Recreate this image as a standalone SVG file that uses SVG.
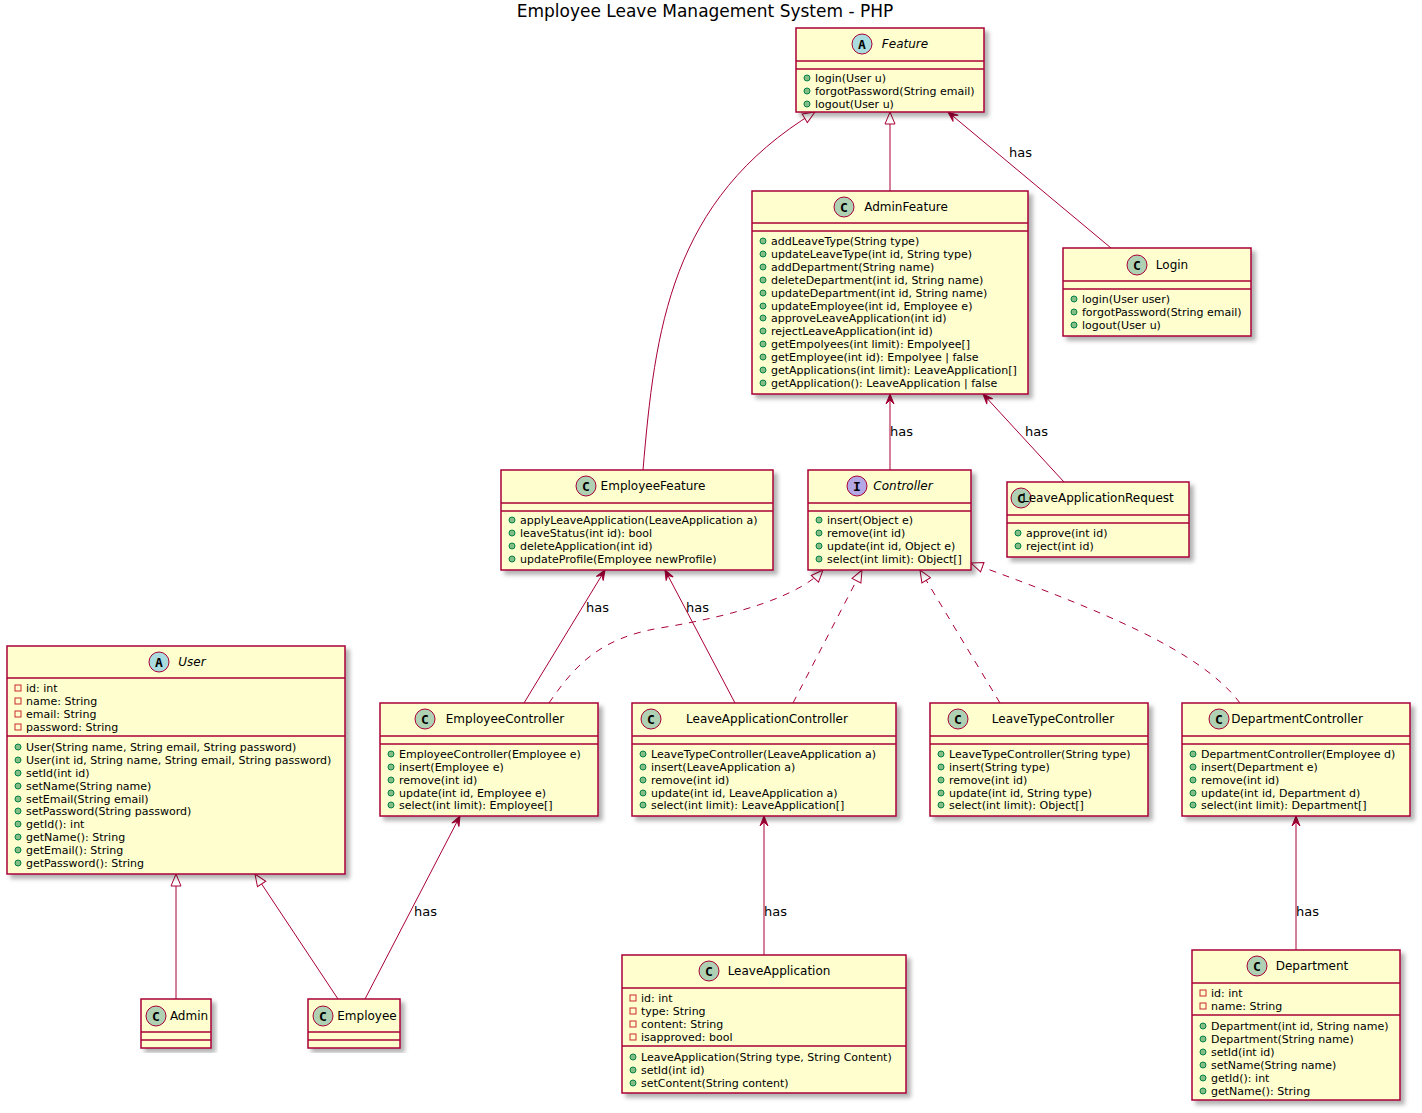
<svg xmlns="http://www.w3.org/2000/svg" width="1422" height="1113" viewBox="0 0 1422 1113">
<defs>
<filter id="sh" x="-5%" y="-5%" width="115%" height="115%"><feDropShadow dx="4" dy="4" stdDeviation="2" flood-color="#000" flood-opacity="0.3"/></filter>
<marker id="tri" viewBox="0 0 14 12" refX="13" refY="6" markerWidth="14" markerHeight="12" markerUnits="userSpaceOnUse" orient="auto"><path d="M1,1 L13,6 L1,11 Z" fill="#fff" stroke="#A80036"/></marker>
<marker id="arr" viewBox="0 0 12 10" refX="11" refY="5" markerWidth="12" markerHeight="10" markerUnits="userSpaceOnUse" orient="auto"><path d="M1,1 L11,5 L1,9 L5,5 Z" fill="#A80036" stroke="#A80036"/></marker>
</defs>
<style>
.b{fill:#FEFECE;stroke:#A80036;stroke-width:1.5;filter:url(#sh)}
.s{stroke:#A80036;stroke-width:1.5}
.t{font-family:"DejaVu Sans",sans-serif;font-size:12px;fill:#000;text-anchor:middle}
.it{font-style:italic}
.m{font-family:"DejaVu Sans",sans-serif;font-size:11px;fill:#000}
.pub{fill:#84BE84;stroke:#038048;stroke-width:1}
.pri{fill:none;stroke:#C82930;stroke-width:1}
.ic{stroke:#A80036;stroke-width:1}
.il{font-family:"DejaVu Sans Mono",monospace;font-weight:bold;font-size:13px;text-anchor:middle}
.e{fill:none;stroke:#A80036;stroke-width:1}
.d{stroke-dasharray:7,7}
.l{font-family:"DejaVu Sans",sans-serif;font-size:13px;fill:#000}
</style>
<text x="705" y="17" font-family="DejaVu Sans,sans-serif" font-size="17" text-anchor="middle">Employee Leave Management System - PHP</text>

<g id="connectors">
<path class="e" d="M643,470 C655,330 670,200 815,112" marker-end="url(#tri)"/>
<path class="e" d="M890,191 L890,112" marker-end="url(#tri)"/>
<path class="e" d="M1111,248 L948,112" marker-end="url(#arr)"/>
<text class="l" x="1009" y="157">has</text>
<path class="e" d="M890,470 L890,394" marker-end="url(#arr)"/>
<text class="l" x="890" y="436">has</text>
<path class="e" d="M1064,482 L983,394" marker-end="url(#arr)"/>
<text class="l" x="1025" y="436">has</text>
<path class="e" d="M524,703 L605,570" marker-end="url(#arr)"/>
<text class="l" x="586" y="612">has</text>
<path class="e" d="M735,703 L665,570" marker-end="url(#arr)"/>
<text class="l" x="686" y="612">has</text>
<path class="e d" d="M549,703 C575,665 600,638 660,628 C740,615 800,595 823,570" marker-end="url(#tri)"/>
<path class="e d" d="M793,703 L862,570" marker-end="url(#tri)"/>
<path class="e d" d="M1000,703 L920,570" marker-end="url(#tri)"/>
<path class="e d" d="M1240,703 C1200,650 1100,610 971,563" marker-end="url(#tri)"/>
<path class="e" d="M176,999 L176,874" marker-end="url(#tri)"/>
<path class="e" d="M338,999 L255,874" marker-end="url(#tri)"/>
<path class="e" d="M365,999 L460,816" marker-end="url(#arr)"/>
<text class="l" x="414" y="916">has</text>
<path class="e" d="M764,955 L764,816" marker-end="url(#arr)"/>
<text class="l" x="764" y="916">has</text>
<path class="e" d="M1296,950 L1296,816" marker-end="url(#arr)"/>
<text class="l" x="1296" y="916">has</text>
</g>

<g id="Feature">
<rect class="b" x="796" y="28" width="188" height="84"/>
<line class="s" x1="796" y1="61" x2="984" y2="61"/><line class="s" x1="796" y1="69" x2="984" y2="69"/>
<circle class="ic" cx="862" cy="44" r="10" fill="#A9DCDF"/><text class="il" x="862" y="49">A</text>
<text class="t it" x="905" y="48">Feature</text>
<circle class="pub" cx="807" cy="78" r="3"/><text class="m" x="815" y="82">login(User u)</text>
<circle class="pub" cx="807" cy="91" r="3"/><text class="m" x="815" y="95">forgotPassword(String email)</text>
<circle class="pub" cx="807" cy="104" r="3"/><text class="m" x="815" y="108">logout(User u)</text>
</g>

<g id="AdminFeature">
<rect class="b" x="752" y="191" width="276" height="203"/>
<line class="s" x1="752" y1="223" x2="1028" y2="223"/><line class="s" x1="752" y1="231" x2="1028" y2="231"/>
<circle class="ic" cx="844" cy="207" r="10" fill="#ADD1B2"/><text class="il" x="844" y="212">C</text>
<text class="t" x="906" y="211">AdminFeature</text>
<g class="m">
<circle class="pub" cx="763" cy="241" r="3"/><text class="m" x="771" y="245">addLeaveType(String type)</text>
<circle class="pub" cx="763" cy="254" r="3"/><text class="m" x="771" y="258">updateLeaveType(int id, String type)</text>
<circle class="pub" cx="763" cy="267" r="3"/><text class="m" x="771" y="271">addDepartment(String name)</text>
<circle class="pub" cx="763" cy="280" r="3"/><text class="m" x="771" y="284">deleteDepartment(int id, String name)</text>
<circle class="pub" cx="763" cy="293" r="3"/><text class="m" x="771" y="297">updateDepartment(int id, String name)</text>
<circle class="pub" cx="763" cy="306" r="3"/><text class="m" x="771" y="310">updateEmployee(int id, Employee e)</text>
<circle class="pub" cx="763" cy="318" r="3"/><text class="m" x="771" y="322">approveLeaveApplication(int id)</text>
<circle class="pub" cx="763" cy="331" r="3"/><text class="m" x="771" y="335">rejectLeaveApplication(int id)</text>
<circle class="pub" cx="763" cy="344" r="3"/><text class="m" x="771" y="348">getEmpolyees(int limit): Empolyee[]</text>
<circle class="pub" cx="763" cy="357" r="3"/><text class="m" x="771" y="361">getEmployee(int id): Empolyee | false</text>
<circle class="pub" cx="763" cy="370" r="3"/><text class="m" x="771" y="374">getApplications(int limit): LeaveApplication[]</text>
<circle class="pub" cx="763" cy="383" r="3"/><text class="m" x="771" y="387">getApplication(): LeaveApplication | false</text>
</g>
</g>

<g id="Login">
<rect class="b" x="1063" y="248" width="188" height="88"/>
<line class="s" x1="1063" y1="281" x2="1251" y2="281"/><line class="s" x1="1063" y1="289" x2="1251" y2="289"/>
<circle class="ic" cx="1137" cy="265" r="10" fill="#ADD1B2"/><text class="il" x="1137" y="270">C</text>
<text class="t" x="1172" y="269">Login</text>
<circle class="pub" cx="1074" cy="299" r="3"/><text class="m" x="1082" y="303">login(User user)</text>
<circle class="pub" cx="1074" cy="312" r="3"/><text class="m" x="1082" y="316">forgotPassword(String email)</text>
<circle class="pub" cx="1074" cy="325" r="3"/><text class="m" x="1082" y="329">logout(User u)</text>
</g>

<g id="EmployeeFeature">
<rect class="b" x="501" y="470" width="272" height="100"/>
<line class="s" x1="501" y1="503" x2="773" y2="503"/><line class="s" x1="501" y1="511" x2="773" y2="511"/>
<circle class="ic" cx="586" cy="486" r="10" fill="#ADD1B2"/><text class="il" x="586" y="491">C</text>
<text class="t" x="653" y="490">EmployeeFeature</text>
<circle class="pub" cx="512" cy="520" r="3"/><text class="m" x="520" y="524">applyLeaveApplication(LeaveApplication a)</text>
<circle class="pub" cx="512" cy="533" r="3"/><text class="m" x="520" y="537">leaveStatus(int id): bool</text>
<circle class="pub" cx="512" cy="546" r="3"/><text class="m" x="520" y="550">deleteApplication(int id)</text>
<circle class="pub" cx="512" cy="559" r="3"/><text class="m" x="520" y="563">updateProfile(Employee newProfile)</text>
</g>

<g id="Controller">
<rect class="b" x="808" y="470" width="163" height="100"/>
<line class="s" x1="808" y1="503" x2="971" y2="503"/><line class="s" x1="808" y1="511" x2="971" y2="511"/>
<circle class="ic" cx="857" cy="486" r="10" fill="#B4A7E5"/><text class="il" x="857" y="491">I</text>
<text class="t it" x="903" y="490">Controller</text>
<circle class="pub" cx="819" cy="520" r="3"/><text class="m" x="827" y="524">insert(Object e)</text>
<circle class="pub" cx="819" cy="533" r="3"/><text class="m" x="827" y="537">remove(int id)</text>
<circle class="pub" cx="819" cy="546" r="3"/><text class="m" x="827" y="550">update(int id, Object e)</text>
<circle class="pub" cx="819" cy="559" r="3"/><text class="m" x="827" y="563">select(int limit): Object[]</text>
</g>

<g id="LeaveApplicationRequest">
<rect class="b" x="1007" y="482" width="182" height="75"/>
<line class="s" x1="1007" y1="515" x2="1189" y2="515"/><line class="s" x1="1007" y1="523" x2="1189" y2="523"/>
<circle class="ic" cx="1021" cy="498" r="10" fill="#ADD1B2"/><text class="il" x="1021" y="503">C</text>
<text class="t" x="1098" y="502">LeaveApplicationRequest</text>
<circle class="pub" cx="1018" cy="533" r="3"/><text class="m" x="1026" y="537">approve(int id)</text>
<circle class="pub" cx="1018" cy="546" r="3"/><text class="m" x="1026" y="550">reject(int id)</text>
</g>

<g id="User">
<rect class="b" x="7" y="646" width="338" height="228"/>
<line class="s" x1="7" y1="678" x2="345" y2="678"/><line class="s" x1="7" y1="736" x2="345" y2="736"/>
<circle class="ic" cx="159" cy="662" r="10" fill="#A9DCDF"/><text class="il" x="159" y="667">A</text>
<text class="t it" x="192" y="666">User</text>
<rect class="pri" x="15" y="685" width="6" height="6"/><text class="m" x="26" y="692">id: int</text>
<rect class="pri" x="15" y="698" width="6" height="6"/><text class="m" x="26" y="705">name: String</text>
<rect class="pri" x="15" y="711" width="6" height="6"/><text class="m" x="26" y="718">email: String</text>
<rect class="pri" x="15" y="724" width="6" height="6"/><text class="m" x="26" y="731">password: String</text>
<circle class="pub" cx="18" cy="747" r="3"/><text class="m" x="26" y="751">User(String name, String email, String password)</text>
<circle class="pub" cx="18" cy="760" r="3"/><text class="m" x="26" y="764">User(int id, String name, String email, String password)</text>
<circle class="pub" cx="18" cy="773" r="3"/><text class="m" x="26" y="777">setId(int id)</text>
<circle class="pub" cx="18" cy="786" r="3"/><text class="m" x="26" y="790">setName(String name)</text>
<circle class="pub" cx="18" cy="799" r="3"/><text class="m" x="26" y="803">setEmail(String email)</text>
<circle class="pub" cx="18" cy="811" r="3"/><text class="m" x="26" y="815">setPassword(String password)</text>
<circle class="pub" cx="18" cy="824" r="3"/><text class="m" x="26" y="828">getId(): int</text>
<circle class="pub" cx="18" cy="837" r="3"/><text class="m" x="26" y="841">getName(): String</text>
<circle class="pub" cx="18" cy="850" r="3"/><text class="m" x="26" y="854">getEmail(): String</text>
<circle class="pub" cx="18" cy="863" r="3"/><text class="m" x="26" y="867">getPassword(): String</text>
</g>

<g id="EmployeeController">
<rect class="b" x="380" y="703" width="218" height="113"/>
<line class="s" x1="380" y1="736" x2="598" y2="736"/><line class="s" x1="380" y1="744" x2="598" y2="744"/>
<circle class="ic" cx="425" cy="719" r="10" fill="#ADD1B2"/><text class="il" x="425" y="724">C</text>
<text class="t" x="505" y="723">EmployeeController</text>
<circle class="pub" cx="391" cy="754" r="3"/><text class="m" x="399" y="758">EmployeeController(Employee e)</text>
<circle class="pub" cx="391" cy="767" r="3"/><text class="m" x="399" y="771">insert(Employee e)</text>
<circle class="pub" cx="391" cy="780" r="3"/><text class="m" x="399" y="784">remove(int id)</text>
<circle class="pub" cx="391" cy="793" r="3"/><text class="m" x="399" y="797">update(int id, Employee e)</text>
<circle class="pub" cx="391" cy="805" r="3"/><text class="m" x="399" y="809">select(int limit): Employee[]</text>
</g>

<g id="LeaveApplicationController">
<rect class="b" x="632" y="703" width="264" height="113"/>
<line class="s" x1="632" y1="736" x2="896" y2="736"/><line class="s" x1="632" y1="744" x2="896" y2="744"/>
<circle class="ic" cx="651" cy="719" r="10" fill="#ADD1B2"/><text class="il" x="651" y="724">C</text>
<text class="t" x="767" y="723">LeaveApplicationController</text>
<circle class="pub" cx="643" cy="754" r="3"/><text class="m" x="651" y="758">LeaveTypeController(LeaveApplication a)</text>
<circle class="pub" cx="643" cy="767" r="3"/><text class="m" x="651" y="771">insert(LeaveApplication a)</text>
<circle class="pub" cx="643" cy="780" r="3"/><text class="m" x="651" y="784">remove(int id)</text>
<circle class="pub" cx="643" cy="793" r="3"/><text class="m" x="651" y="797">update(int id, LeaveApplication a)</text>
<circle class="pub" cx="643" cy="805" r="3"/><text class="m" x="651" y="809">select(int limit): LeaveApplication[]</text>
</g>

<g id="LeaveTypeController">
<rect class="b" x="930" y="703" width="218" height="113"/>
<line class="s" x1="930" y1="736" x2="1148" y2="736"/><line class="s" x1="930" y1="744" x2="1148" y2="744"/>
<circle class="ic" cx="958" cy="719" r="10" fill="#ADD1B2"/><text class="il" x="958" y="724">C</text>
<text class="t" x="1053" y="723">LeaveTypeController</text>
<circle class="pub" cx="941" cy="754" r="3"/><text class="m" x="949" y="758">LeaveTypeController(String type)</text>
<circle class="pub" cx="941" cy="767" r="3"/><text class="m" x="949" y="771">insert(String type)</text>
<circle class="pub" cx="941" cy="780" r="3"/><text class="m" x="949" y="784">remove(int id)</text>
<circle class="pub" cx="941" cy="793" r="3"/><text class="m" x="949" y="797">update(int id, String type)</text>
<circle class="pub" cx="941" cy="805" r="3"/><text class="m" x="949" y="809">select(int limit): Object[]</text>
</g>

<g id="DepartmentController">
<rect class="b" x="1182" y="703" width="228" height="113"/>
<line class="s" x1="1182" y1="736" x2="1410" y2="736"/><line class="s" x1="1182" y1="744" x2="1410" y2="744"/>
<circle class="ic" cx="1219" cy="719" r="10" fill="#ADD1B2"/><text class="il" x="1219" y="724">C</text>
<text class="t" x="1297" y="723">DepartmentController</text>
<circle class="pub" cx="1193" cy="754" r="3"/><text class="m" x="1201" y="758">DepartmentController(Employee d)</text>
<circle class="pub" cx="1193" cy="767" r="3"/><text class="m" x="1201" y="771">insert(Department e)</text>
<circle class="pub" cx="1193" cy="780" r="3"/><text class="m" x="1201" y="784">remove(int id)</text>
<circle class="pub" cx="1193" cy="793" r="3"/><text class="m" x="1201" y="797">update(int id, Department d)</text>
<circle class="pub" cx="1193" cy="805" r="3"/><text class="m" x="1201" y="809">select(int limit): Department[]</text>
</g>

<g id="Admin">
<rect class="b" x="141" y="999" width="70" height="49"/>
<line class="s" x1="141" y1="1032" x2="211" y2="1032"/><line class="s" x1="141" y1="1040" x2="211" y2="1040"/>
<circle class="ic" cx="156" cy="1016" r="10" fill="#ADD1B2"/><text class="il" x="156" y="1021">C</text>
<text class="t" x="189" y="1020">Admin</text>
</g>

<g id="Employee">
<rect class="b" x="308" y="999" width="92" height="49"/>
<line class="s" x1="308" y1="1032" x2="400" y2="1032"/><line class="s" x1="308" y1="1040" x2="400" y2="1040"/>
<circle class="ic" cx="323" cy="1016" r="10" fill="#ADD1B2"/><text class="il" x="323" y="1021">C</text>
<text class="t" x="367" y="1020">Employee</text>
</g>

<g id="LeaveApplication">
<rect class="b" x="622" y="955" width="284" height="138"/>
<line class="s" x1="622" y1="988" x2="906" y2="988"/><line class="s" x1="622" y1="1046" x2="906" y2="1046"/>
<circle class="ic" cx="709" cy="971" r="10" fill="#ADD1B2"/><text class="il" x="709" y="976">C</text>
<text class="t" x="779" y="975">LeaveApplication</text>
<rect class="pri" x="630" y="995" width="6" height="6"/><text class="m" x="641" y="1002">id: int</text>
<rect class="pri" x="630" y="1008" width="6" height="6"/><text class="m" x="641" y="1015">type: String</text>
<rect class="pri" x="630" y="1021" width="6" height="6"/><text class="m" x="641" y="1028">content: String</text>
<rect class="pri" x="630" y="1034" width="6" height="6"/><text class="m" x="641" y="1041">isapproved: bool</text>
<circle class="pub" cx="633" cy="1057" r="3"/><text class="m" x="641" y="1061">LeaveApplication(String type, String Content)</text>
<circle class="pub" cx="633" cy="1070" r="3"/><text class="m" x="641" y="1074">setId(int id)</text>
<circle class="pub" cx="633" cy="1083" r="3"/><text class="m" x="641" y="1087">setContent(String content)</text>
</g>

<g id="Department">
<rect class="b" x="1192" y="950" width="208" height="150"/>
<line class="s" x1="1192" y1="983" x2="1400" y2="983"/><line class="s" x1="1192" y1="1015" x2="1400" y2="1015"/>
<circle class="ic" cx="1257" cy="966" r="10" fill="#ADD1B2"/><text class="il" x="1257" y="971">C</text>
<text class="t" x="1312" y="970">Department</text>
<rect class="pri" x="1200" y="990" width="6" height="6"/><text class="m" x="1211" y="997">id: int</text>
<rect class="pri" x="1200" y="1003" width="6" height="6"/><text class="m" x="1211" y="1010">name: String</text>
<circle class="pub" cx="1203" cy="1026" r="3"/><text class="m" x="1211" y="1030">Department(int id, String name)</text>
<circle class="pub" cx="1203" cy="1039" r="3"/><text class="m" x="1211" y="1043">Department(String name)</text>
<circle class="pub" cx="1203" cy="1052" r="3"/><text class="m" x="1211" y="1056">setId(int id)</text>
<circle class="pub" cx="1203" cy="1065" r="3"/><text class="m" x="1211" y="1069">setName(String name)</text>
<circle class="pub" cx="1203" cy="1078" r="3"/><text class="m" x="1211" y="1082">getId(): int</text>
<circle class="pub" cx="1203" cy="1091" r="3"/><text class="m" x="1211" y="1095">getName(): String</text>
</g>
</svg>
